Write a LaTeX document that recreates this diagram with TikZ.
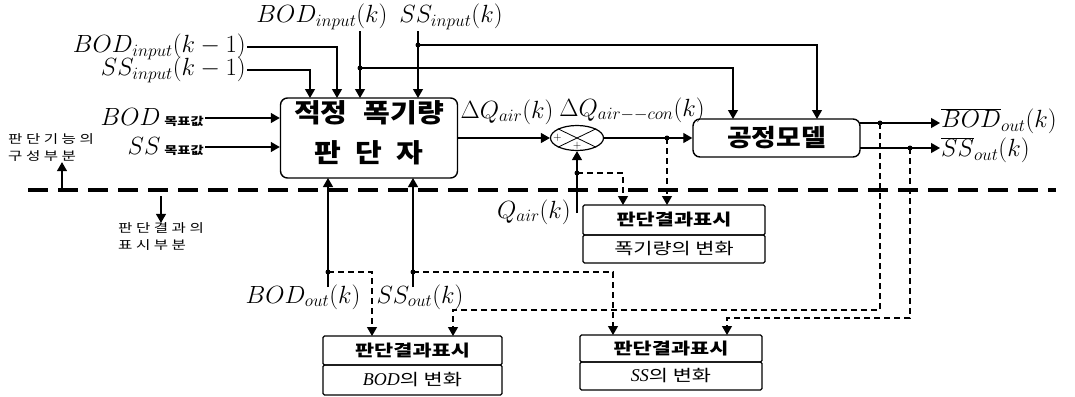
\documentclass[tikz,border=0pt]{standalone}
\usepackage{fontspec}
\newfontfamily\kr{Noto Sans CJK KR}[FakeStretch=1.3]
\newfontfamily\krm{Noto Sans CJK KR}[FakeStretch=1.12]
\newfontfamily\serifit{Liberation Serif}
\usetikzlibrary{arrows.meta,positioning,shapes.geometric}

\begin{document}
\begin{tikzpicture}[x=1pt,y=-1pt,>={Triangle[length=9pt,width=10pt]},
  lbl/.style={font=\fontsize{23}{25}\selectfont,inner sep=1pt},
  tiny/.style={font=\kr\fontsize{12}{17}\selectfont,align=left,inner sep=0pt},
  conn/.style={->,line width=1.2pt},
  dconn/.style={->,line width=1.2pt,dash pattern=on 6pt off 4pt},
  mainbox/.style={draw,line width=1.4pt,rounded corners=7pt,align=center,inner sep=0pt},
  rhead/.style={draw,line width=1.3pt,rounded corners=1.5pt,outer sep=0pt,inner sep=0pt,font=\kr\bfseries\fontsize{16}{18}\selectfont},
  rbody/.style={rhead,font=\kr\fontsize{16}{18}\selectfont},
  sepline/.style={line width=4.5pt,dash pattern=on 20pt off 10pt}]
\useasboundingbox (0,0) rectangle (1075,396);
\node[mainbox,minimum width=177pt,minimum height=80pt,text depth=12pt,font=\krm\bfseries\fontsize{26}{40}\selectfont] (judge) at (369,138) {적정\hspace{16pt}폭기량\\판\hspace{14pt}단\hspace{14pt}자};
\node[mainbox,minimum width=167pt,minimum height=38pt,font=\krm\bfseries\fontsize{24}{26}\selectfont] (model) at (776.5,138) {공정모델};
\node[ellipse,draw,line width=1.2pt,minimum width=53pt,minimum height=25pt,inner sep=0pt] (sum) at (577,138) {};
\draw[line width=0.8pt] (sum.north west) -- (sum.south east);
\draw[line width=0.8pt] (sum.north east) -- (sum.south west);
\node[font=\fontsize{11}{11}\selectfont,inner sep=0pt,right=3pt of sum.west] (pa) {$+$};
\node[font=\fontsize{11}{11}\selectfont,inner sep=0pt,above=1pt of sum.south] (pb) {$+$};
\node[rhead,minimum width=182pt,minimum height=30pt] (r1a) at (674,220) {판단결과표시};
\node[rbody,minimum width=182pt,minimum height=28pt,below=0pt of r1a] (r1b) {폭기량의 변화};
\node[rhead,minimum width=179pt,minimum height=29pt] (r2a) at (412.5,350.5) {판단결과표시};
\node[rbody,minimum width=179pt,minimum height=30pt,below=0pt of r2a] (r2b) {{\serifit\itshape\fontsize{18}{18}\selectfont BOD}의 변화};
\node[rhead,minimum width=182pt,minimum height=27pt] (r3a) at (671,348.5) {판단결과표시};
\node[rbody,minimum width=182pt,minimum height=28pt,below=0pt of r3a] (r3b) {{\serifit\itshape\fontsize{18}{18}\selectfont SS}의 변화};
\node[lbl,anchor=east] (lbod1) at (247,47) {$BOD_{input}(k-1)$};
\node[lbl,anchor=east] (lss1) at (247,70) {$SS_{input}(k-1)$};
\node[lbl] (lbodk) at (322,17) {$BOD_{input}(k)$};
\node[lbl] (lssk) at (451,17) {$SS_{input}(k)$};
\node[lbl,anchor=east] (lbodt) at (205,118) {$BOD$\,{\kr\bfseries\fontsize{11}{11}\selectfont 목표값}};
\node[lbl,anchor=east] (lsst) at (205,147) {$SS$\,{\kr\bfseries\fontsize{11}{11}\selectfont 목표값}};
\node[lbl] (ldq) at (507,112) {$\Delta Q_{air}(k)$};
\node[lbl] (ldqc) at (632,110) {$\Delta Q_{air{-}{-}con}(k)$};
\node[lbl,anchor=east] (lqair) at (572,212) {$Q_{air}(k)$};
\node[lbl] (lbodo) at (303,297) {$BOD_{out}(k)$};
\node[lbl] (lsso) at (420,297) {$SS_{out}(k)$};
\node[lbl,anchor=west] (lbodbar) at (940,121) {$\overline{BOD}_{out}(k)$};
\node[lbl,anchor=west] (lssbar) at (940,150) {$\overline{SS}_{out}(k)$};
\node[tiny,anchor=west] (lpart1) at (8,148) {판 단 기 능 의\\구 성 부 분};
\node[tiny,anchor=west] (lpart2) at (118,237) {판 단 결 과 의\\표 시 부 분};
\coordinate (jt1) at (310,98);
\coordinate (jt2) at (337,98);
\coordinate (jt3) at (360,98);
\coordinate (jt4) at (418,98);
\coordinate (jb1) at (328,178);
\coordinate (jb2) at (413,178);
\coordinate (bo1) at (328,287);
\coordinate (bo2) at (413,287);
\coordinate (mt1) at (733,119);
\coordinate (mt2) at (817,119);
\coordinate (mo1) at (860,123);
\coordinate (mo2) at (860,148);
\coordinate (qin) at (577,213);
\coordinate (dbk) at (360,68);
\coordinate (dssk) at (418,45);
\coordinate (dq) at (577,173);
\coordinate (dqc) at (667,138);
\coordinate (dbo) at (328,272);
\coordinate (dso) at (413,272);
\coordinate (dbb) at (880,123);
\coordinate (dsb) at (910,148);
\coordinate (r1t1) at (623,205);
\coordinate (r1t2) at (667,205);
\coordinate (r2t1) at (372,336);
\coordinate (r2t2) at (453,336);
\coordinate (r3t1) at (613,335);
\coordinate (r3t2) at (727,335);
\coordinate (up1) at (62,190);
\coordinate (dn1) at (161,196);
\draw[sepline] (28,190) -- (1056,190);
\draw[conn] (lbod1.east) -| (jt2);
\draw[conn] (lss1.east) -| (jt1);
\draw[conn] (lbodk.south -| jt3) -- (jt3);
\draw[conn] (lssk.south -| jt4) -- (jt4);
\draw[conn] (dbk) -| (mt1);
\draw[conn] (dssk) -| (mt2);
\draw[conn] (lbodt.east) -- (lbodt.east -| judge.west);
\draw[conn] (lsst.east) -- (lsst.east -| judge.west);
\draw[conn] (judge.east) -- (sum.west);
\draw[conn] (sum.east) -- (model.west);
\draw[conn] (qin) -- (sum.south);
\draw[conn] (bo1) -- (jb1);
\draw[conn] (bo2) -- (jb2);
\draw[conn] (mo1) -- (lbodbar.west |- mo1);
\draw[conn] (mo2) -- (lssbar.west |- mo2);
\draw[conn] (up1) -- (up1 |- lpart1.south);
\draw[conn] (dn1) -- (dn1 |- lpart2.north);
\draw[dconn] (dq) -| (r1t1);
\draw[dconn] (dqc) -- (r1t2);
\draw[dconn] (dbo) -| (r2t1);
\draw[dconn] (dso) -| (r3t1);
\draw[dconn] (dbb) -- ++(0,187) -| (r2t2);
\draw[dconn] (dsb) -- ++(0,170) -| (r3t2);
\foreach \p in {dbk,dssk,dq,dqc,dbo,dso,dbb,dsb} \fill (\p) circle (2.5pt);
\end{tikzpicture}
\end{document}
